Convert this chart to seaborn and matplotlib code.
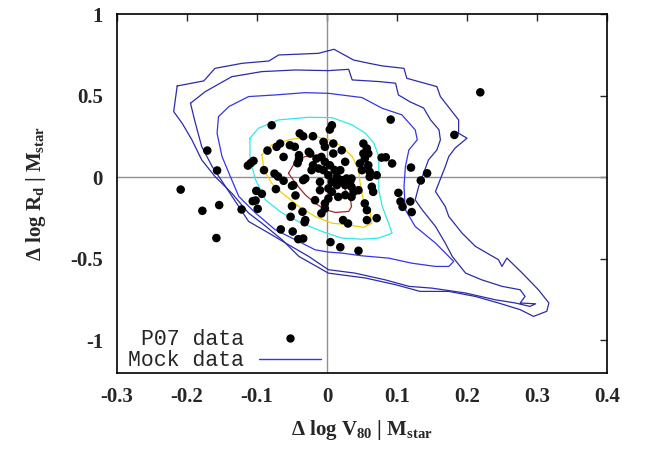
import numpy as np
import matplotlib
matplotlib.use("Agg")
import matplotlib.pyplot as plt
import seaborn as sns
from matplotlib.lines import Line2D

# P07 data points (delta log V80, delta log Rd)
p07_x = [0.219, 0.091, 0.182, -0.079, -0.171, -0.157, -0.209, -0.178, -0.154, -0.122,
         -0.158, 0.120, 0.143, 0.134, 0.102, 0.105, 0.108, 0.119, 0.121, 0.093,
         0.084, 0.078, 0.071, 0.045, 0.019, 0.005, -0.034, -0.041, -0.049, -0.066,
         -0.052, -0.032, -0.035, -0.050, -0.099, -0.102, -0.106, -0.093, -0.101, -0.073,
         -0.062, -0.050, -0.045, -0.075, -0.070, -0.090, -0.113, -0.109, -0.105, -0.085,
         -0.039, -0.034, -0.020, 0.007, 0.004, -0.067, -0.072, -0.053, -0.046, -0.062,
         -0.040, -0.024, -0.005, -0.003, 0.009, 0.021, 0.009, -0.015, -0.008, -0.003,
         -0.020, -0.012, -0.022, -0.005, 0.004, 0.011, 0.002, 0.014, 0.021, 0.028,
         0.033, 0.035, 0.026, 0.014, 0.007, -0.010, -0.010, -0.034, -0.031, -0.048,
         -0.031, 0.002, 0.007, 0.016, 0.026, 0.038, 0.045, 0.035, 0.002, -0.003,
         -0.003, -0.008, -0.017, 0.052, 0.057, 0.052, 0.059, 0.054, 0.047, 0.059,
         0.050, 0.061, 0.061, 0.071, 0.064, 0.066, 0.054, 0.057, 0.057, 0.030,
         0.023, 0.035, 0.026, 0.019, -0.026, -0.040, -0.042]
p07_y = [0.520, 0.353, 0.259, 0.318, 0.163, 0.041, -0.076, -0.206, -0.171, -0.198,
         -0.373, 0.059, 0.024, -0.020, -0.096, -0.149, -0.182, -0.149, -0.214, 0.084,
         0.122, 0.120, -0.251, -0.451, -0.429, -0.398, -0.376, -0.380, -0.333, -0.320,
         -0.243, -0.276, -0.212, -0.178, -0.194, -0.143, -0.147, -0.102, -0.084, -0.073,
         -0.022, -0.053, -0.112, 0.022, 0.004, 0.043, 0.071, 0.086, 0.100, 0.163,
         0.268, 0.251, 0.251, 0.318, 0.292, 0.206, 0.186, 0.196, 0.186, 0.124,
         0.135, 0.145, 0.216, 0.186, 0.206, 0.165, 0.145, 0.114, 0.124, 0.094,
         0.073, 0.053, 0.043, 0.043, 0.073, 0.043, 0.012, 0.002, -0.018, -0.008,
         -0.029, -0.008, -0.049, -0.049, -0.029, -0.029, -0.080, -0.018, -0.008, -0.049,
         -0.263, -0.069, -0.090, -0.121, -0.110, -0.090, -0.080, -0.121, -0.131, -0.161,
         -0.192, -0.222, -0.141, 0.206, 0.176, 0.145, 0.145, 0.114, 0.084, 0.073,
         0.043, 0.033, 0.002, 0.012, -0.059, -0.090, -0.161, -0.202, -0.263, -0.284,
         -0.263, -0.059, 0.094, 0.043, 0.155, 0.110, 0.086]

# mock data contours, traced outer to inner
c1_x = [-0.214, -0.176, -0.160, -0.121, -0.083, -0.069, -0.012, 0.010, 0.038, 0.060,
        0.079, 0.110, 0.114, 0.157, 0.162, 0.188, 0.188, 0.200, 0.183, 0.174,
        0.169, 0.155, 0.169, 0.174, 0.193, 0.212, 0.245, 0.250, 0.257, 0.279,
        0.302, 0.317, 0.314, 0.295, 0.276, 0.245, 0.212, 0.174, 0.133, 0.098,
        0.055, 0.002, -0.040, -0.064, -0.093, -0.112, -0.136, -0.160, -0.179, -0.193,
        -0.207, -0.219]
c1_y = [0.559, 0.590, 0.667, 0.698, 0.712, 0.749, 0.759, 0.784, 0.718, 0.698,
        0.682, 0.667, 0.606, 0.555, 0.494, 0.351, 0.269, 0.239, 0.178, 0.127,
        0.065, -0.088, -0.180, -0.241, -0.343, -0.424, -0.506, -0.547, -0.496, -0.588,
        -0.690, -0.771, -0.822, -0.853, -0.812, -0.771, -0.731, -0.700, -0.700, -0.659,
        -0.618, -0.588, -0.486, -0.384, -0.282, -0.220, -0.098, 0.004, 0.106, 0.229,
        0.331, 0.402]

c2_x = [-0.195, -0.174, -0.136, -0.093, -0.045, 0.002, 0.031, 0.036, 0.074, 0.098,
        0.102, 0.119, 0.138, 0.148, 0.160, 0.162, 0.157, 0.145, 0.138, 0.131,
        0.126, 0.136, 0.155, 0.169, 0.179, 0.198, 0.221, 0.250, 0.276, 0.283,
        0.276, 0.298, 0.290, 0.269, 0.240, 0.198, 0.150, 0.117, 0.083, 0.040,
        0.002, -0.026, -0.055, -0.083, -0.112, -0.126, -0.145, -0.164, -0.179, -0.188]
c2_y = [0.453, 0.524, 0.616, 0.647, 0.657, 0.653, 0.661, 0.596, 0.586, 0.576,
        0.504, 0.461, 0.424, 0.351, 0.290, 0.229, 0.167, 0.106, 0.024, -0.057,
        -0.139, -0.200, -0.302, -0.404, -0.486, -0.588, -0.629, -0.669, -0.690, -0.731,
        -0.771, -0.776, -0.792, -0.771, -0.751, -0.710, -0.680, -0.669, -0.629, -0.588,
        -0.567, -0.486, -0.414, -0.343, -0.271, -0.180, -0.057, 0.065, 0.188, 0.331]

c3_x = [-0.155, -0.140, -0.112, -0.074, -0.031, 0.002, 0.050, 0.079, 0.107, 0.126,
        0.129, 0.117, 0.112, 0.110, 0.112, 0.126, 0.155, 0.174, 0.181, 0.174,
        0.155, 0.121, 0.088, 0.050, 0.021, 0.002, -0.017, -0.045, -0.074, -0.102,
        -0.126, -0.140, -0.150, -0.157]
c3_y = [0.371, 0.433, 0.494, 0.504, 0.518, 0.514, 0.488, 0.422, 0.382, 0.290,
        0.229, 0.167, 0.065, -0.057, -0.200, -0.302, -0.404, -0.486, -0.516, -0.547,
        -0.547, -0.527, -0.496, -0.482, -0.465, -0.459, -0.445, -0.384, -0.322, -0.220,
        -0.118, 0.024, 0.127, 0.269]

c4_x = [-0.110, -0.098, -0.069, -0.026, 0.007, 0.036, 0.055, 0.067, 0.074, 0.074,
        0.074, 0.079, 0.088, 0.093, 0.074, 0.050, 0.021, -0.007, -0.036, -0.064,
        -0.088, -0.102, -0.110]
c4_y = [0.239, 0.300, 0.351, 0.367, 0.365, 0.320, 0.269, 0.208, 0.127, 0.024,
        -0.078, -0.180, -0.282, -0.343, -0.373, -0.380, -0.373, -0.333, -0.282, -0.220,
        -0.139, -0.016, 0.106]

c5_x = [-0.093, -0.079, -0.050, -0.017, 0.002, 0.021, 0.036, 0.045, 0.048, 0.052,
        0.062, 0.064, 0.052, 0.031, 0.007, -0.017, -0.040, -0.064, -0.079, -0.090]
c5_y = [0.137, 0.198, 0.233, 0.249, 0.233, 0.188, 0.127, 0.045, -0.057, -0.139,
        -0.220, -0.282, -0.308, -0.292, -0.282, -0.241, -0.180, -0.098, -0.037, 0.045]

c6_x = [-0.055, -0.045, -0.031, -0.017, -0.002, 0.012, 0.021, 0.026, 0.033, 0.035,
        0.031, 0.012, -0.002, -0.017, -0.031, -0.045]
c6_y = [0.024, 0.096, 0.127, 0.127, 0.106, 0.065, -0.016, -0.078, -0.118, -0.180,
        -0.210, -0.216, -0.200, -0.159, -0.108, -0.037]

contours = [(c1_x, c1_y, "#2c2ca8"), (c2_x, c2_y, "#2c2ca8"), (c3_x, c3_y, "#3535e6"),
            (c4_x, c4_y, "#30e8e8"), (c5_x, c5_y, "#f2d000"), (c6_x, c6_y, "#a02828")]

sns.set_style("white")
plt.rcParams["axes.unicode_minus"] = False
plt.rcParams["mathtext.fontset"] = "custom"
plt.rcParams["mathtext.rm"] = "Liberation Serif:bold"
plt.rcParams["mathtext.bf"] = "Liberation Serif:bold"
plt.rcParams["mathtext.it"] = "Liberation Serif:bold"

fig = plt.figure(figsize=(6.51, 4.49), dpi=100)
ax = fig.add_axes([0.1797, 0.1693, 0.7527, 0.7995])

ax.axhline(0, color="#909090", lw=1.0, zorder=1)
ax.axvline(0, color="#909090", lw=1.0, zorder=1)

for cx, cy, col in contours:
    xs = np.append(cx, cx[0])
    ys = np.append(cy, cy[0])
    sns.lineplot(x=xs, y=ys, sort=False, estimator=None, color=col, lw=0.9, ax=ax, zorder=2)

sns.scatterplot(x=p07_x, y=p07_y, color="black", s=38, edgecolor="none", ax=ax, zorder=3)

ax.set_xlim(-0.3, 0.4)
ax.set_ylim(-1.2, 1.0)
ax.set_xticks([-0.3, -0.2, -0.1, 0, 0.1, 0.2, 0.3, 0.4])
ax.set_xticklabels(["-0.3", "-0.2", "-0.1", "0", "0.1", "0.2", "0.3", "0.4"])
ax.set_yticks([-1, -0.5, 0, 0.5, 1])
ax.set_yticklabels(["-1", "-0.5", "0", "0.5", "1"])
ax.tick_params(direction="in", length=5, width=1, top=True, right=True, pad=10,
               labelsize=15)
for lab in ax.get_xticklabels() + ax.get_yticklabels():
    lab.set_fontfamily("Liberation Serif")
    lab.set_fontweight("bold")
for sp in ax.spines.values():
    sp.set_color("black")
    sp.set_linewidth(1.2)

ax.set_xlabel(r"Δ log V$_{\mathbf{80}}$ | M$_{\mathbf{star}}$", fontsize=15,
              fontfamily="Liberation Serif", fontweight="bold", labelpad=8)
ax.set_ylabel(r"Δ log R$_{\mathbf{d}}$ | M$_{\mathbf{star}}$", fontsize=15,
              fontfamily="Liberation Serif", fontweight="bold", labelpad=16)

handles = [Line2D([], [], marker="o", ls="none", color="black", markersize=5),
           Line2D([], [], color="#3535f0", lw=1.0)]
ax.legend(handles, ["P07 data", "Mock data"], loc="lower left", markerfirst=False,
          frameon=False, prop={"family": "Liberation Mono", "size": 15.5},
          handlelength=2.9, handletextpad=0.7, labelspacing=0.0,
          borderpad=0.5, borderaxespad=0, bbox_to_anchor=(0.0, -0.025))

fig.savefig("out.png", dpi=100)
